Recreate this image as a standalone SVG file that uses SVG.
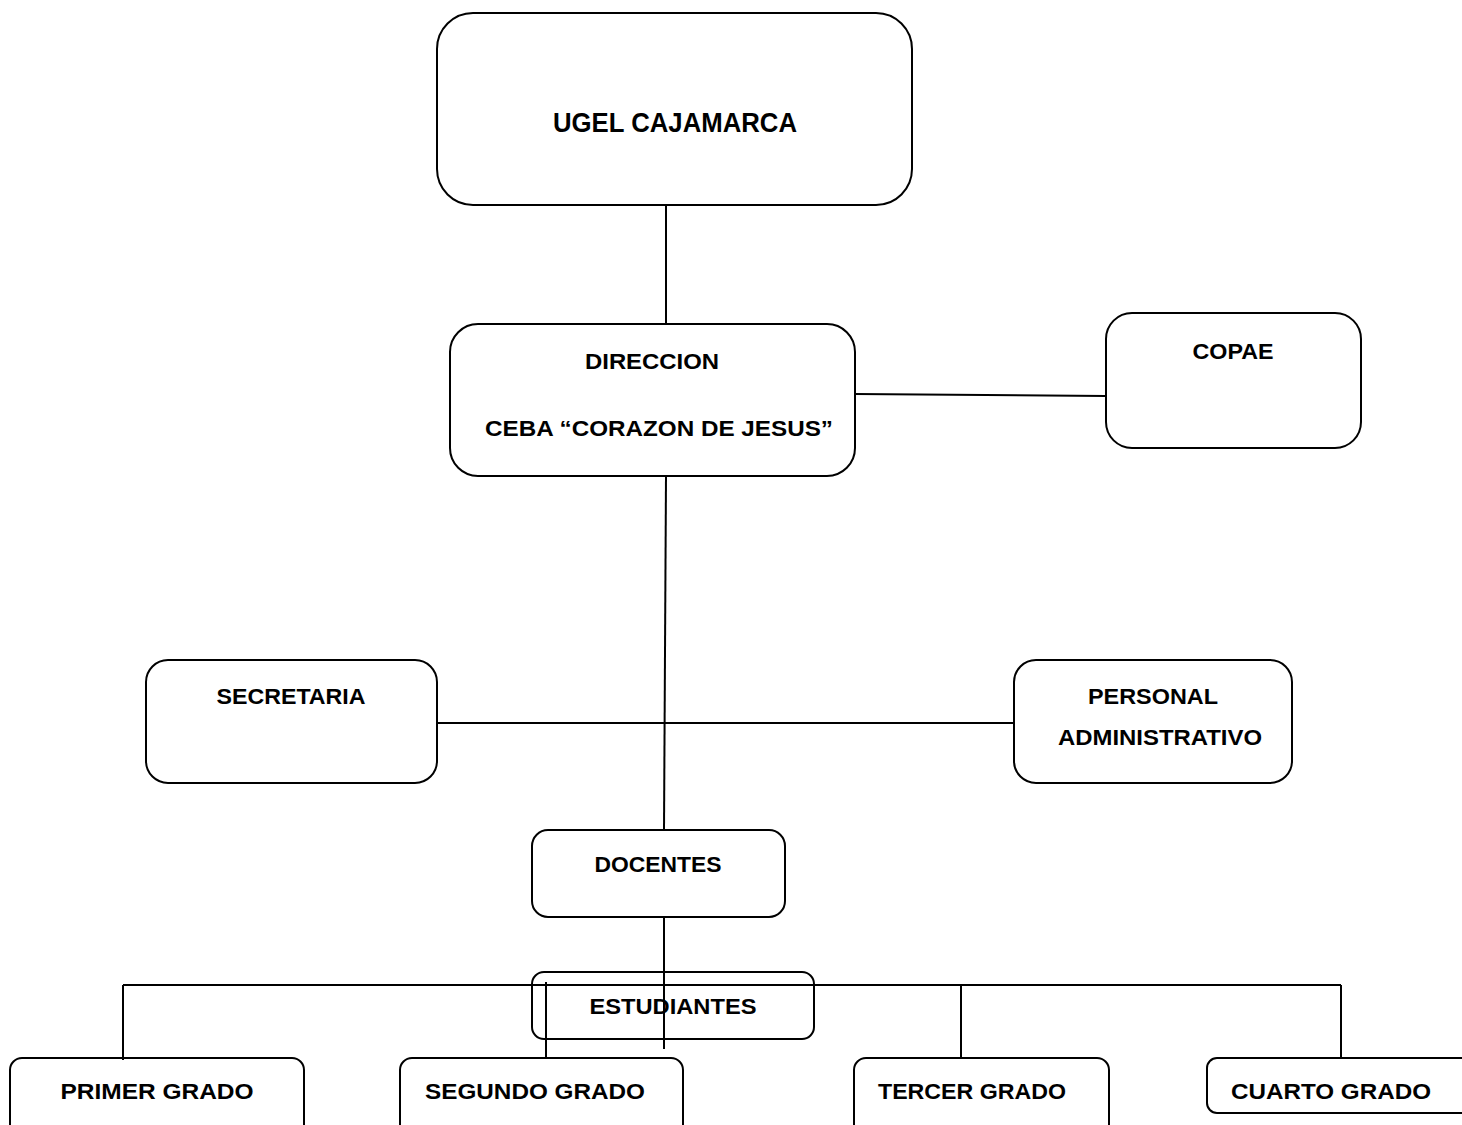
<svg xmlns="http://www.w3.org/2000/svg" width="1462" height="1125" viewBox="0 0 1462 1125">
<style>
.box{fill:none;stroke:#000;stroke-width:2}
.ln{fill:none;stroke:#000;stroke-width:2}
.t{font-family:"Liberation Sans",Arial,sans-serif;font-weight:bold;font-size:22px;fill:#000;text-anchor:middle}
</style>
<rect x="0" y="0" width="1462" height="1125" fill="#fff"/>
<g id="connectors">
<line class="ln" x1="666" y1="205" x2="666" y2="324"/>
<line class="ln" x1="855" y1="394" x2="1106" y2="396"/>
<line class="ln" x1="666" y1="476" x2="664" y2="830"/>
<line class="ln" x1="437" y1="723" x2="1014" y2="723"/>
<line class="ln" x1="664" y1="917" x2="664" y2="1049"/>
<line class="ln" x1="123" y1="985" x2="1341" y2="985"/>
<line class="ln" x1="123" y1="985" x2="123" y2="1060"/>
<line class="ln" x1="546" y1="982" x2="546" y2="1058"/>
<line class="ln" x1="961" y1="985" x2="961" y2="1058"/>
<line class="ln" x1="1341" y1="985" x2="1341" y2="1058"/>
</g>
<g id="ugel">
<rect class="box" x="437" y="13" width="475" height="192" rx="36"/>
<text class="t" x="675" y="132" font-size="27" style="font-size:27px" textLength="244" lengthAdjust="spacingAndGlyphs">UGEL CAJAMARCA</text>
</g>
<g id="direccion">
<rect class="box" x="450" y="324" width="405" height="152" rx="28"/>
<text class="t" x="652" y="369" textLength="134" lengthAdjust="spacingAndGlyphs">DIRECCION</text>
<text class="t" x="659" y="436" textLength="348" lengthAdjust="spacingAndGlyphs">CEBA “CORAZON DE JESUS”</text>
</g>
<g id="copae">
<rect class="box" x="1106" y="313" width="255" height="135" rx="26"/>
<text class="t" x="1233" y="359" textLength="81" lengthAdjust="spacingAndGlyphs">COPAE</text>
</g>
<g id="secretaria">
<rect class="box" x="146" y="660" width="291" height="123" rx="22"/>
<text class="t" x="291" y="704" textLength="149" lengthAdjust="spacingAndGlyphs">SECRETARIA</text>
</g>
<g id="personal">
<rect class="box" x="1014" y="660" width="278" height="123" rx="22"/>
<text class="t" x="1153" y="704" textLength="130" lengthAdjust="spacingAndGlyphs">PERSONAL</text>
<text class="t" x="1160" y="745" textLength="204" lengthAdjust="spacingAndGlyphs">ADMINISTRATIVO</text>
</g>
<g id="docentes">
<rect class="box" x="532" y="830" width="253" height="87" rx="16"/>
<text class="t" x="658" y="872" textLength="127" lengthAdjust="spacingAndGlyphs">DOCENTES</text>
</g>
<g id="estudiantes">
<rect class="box" x="532" y="972" width="282" height="67" rx="12"/>
<text class="t" x="673" y="1014" textLength="167" lengthAdjust="spacingAndGlyphs">ESTUDIANTES</text>
</g>
<g id="primer">
<rect class="box" x="10" y="1058" width="294" height="90" rx="12"/>
<text class="t" x="157" y="1099" textLength="193" lengthAdjust="spacingAndGlyphs">PRIMER GRADO</text>
</g>
<g id="segundo">
<rect class="box" x="400" y="1058" width="283" height="90" rx="12"/>
<text class="t" x="535" y="1099" textLength="220" lengthAdjust="spacingAndGlyphs">SEGUNDO GRADO</text>
</g>
<g id="tercer">
<rect class="box" x="854" y="1058" width="255" height="90" rx="12"/>
<text class="t" x="972" y="1099" textLength="188" lengthAdjust="spacingAndGlyphs">TERCER GRADO</text>
</g>
<g id="cuarto">
<rect class="box" x="1207" y="1058" width="280" height="55" rx="10"/>
<text class="t" x="1331" y="1099" textLength="200" lengthAdjust="spacingAndGlyphs">CUARTO GRADO</text>
</g>
</svg>
